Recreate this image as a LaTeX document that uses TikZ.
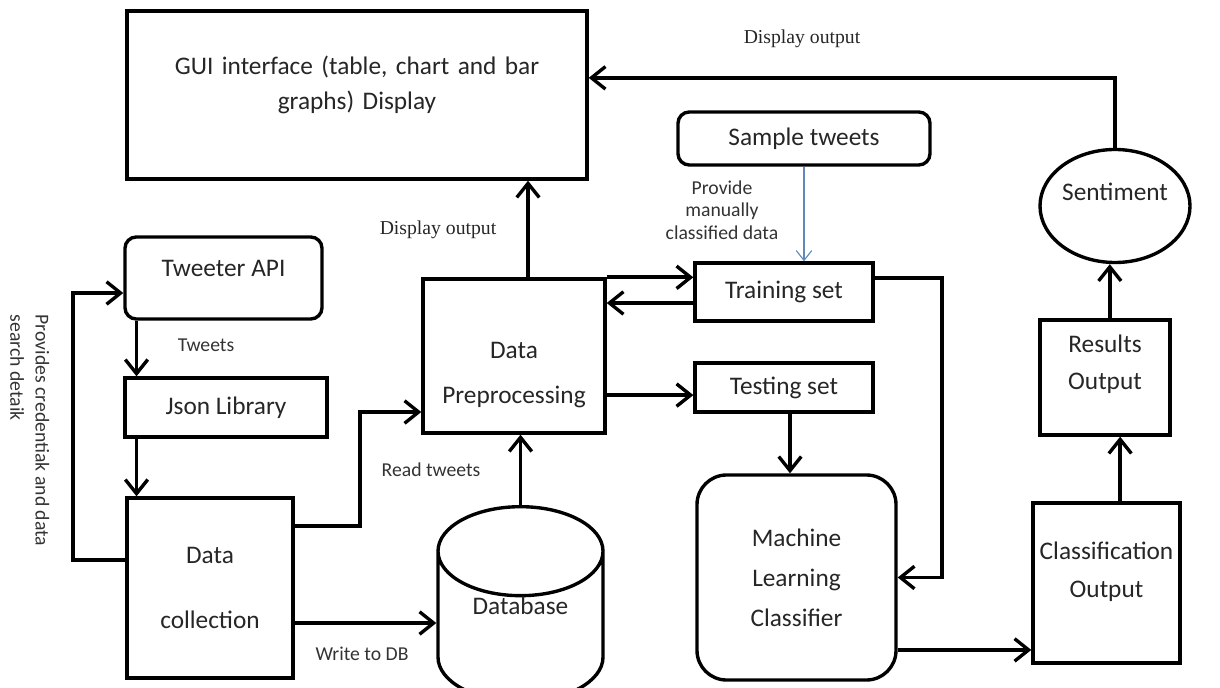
\documentclass[tikz,border=0pt]{standalone}
\usepackage{fontspec}
\setmainfont{Carlito}
\newfontfamily\labelserif{Liberation Serif}
\usetikzlibrary{positioning, arrows.meta, shapes.geometric, calc}
\definecolor{steelblue}{RGB}{96,136,186}

\begin{document}
\begin{tikzpicture}[
  x=0.025cm, y=-0.025cm,
  box/.style={
    draw=black, line width=2.4pt, fill=white, inner sep=0pt,
    align=center, font=\fontsize{18}{25}\selectfont, text=black!85
  },
  rbox/.style={box, rounded corners=8pt},
  sz/.style 2 args={minimum width=#1*0.025cm, minimum height=#2*0.025cm},
  arr/.style={-{Straight Barb[length=10pt, width=16pt, line width=2.4pt]}, line width=2.6pt},
  thinarr/.style={-{Straight Barb[length=7pt, width=11pt]}, line width=0.8pt, color=steelblue},
  lbl/.style={font=\fontsize{14}{16}\selectfont, text=black!80, inner sep=1pt, align=center},
  slbl/.style={font=\labelserif\fontsize{14}{16}\selectfont, text=black!85, inner sep=1pt},
]
\useasboundingbox (0,0) rectangle (1220,688);

% ===== Boxes =====
\node[box, sz={460}{168}, text width=11cm, text depth=42pt] (gui) at (357,95)
  {GUI interface (table, chart and bar\\graphs) Display};
\node[rbox, sz={252}{53}] (sample) at (804,138.5) {Sample tweets};
\node[box, ellipse, sz={150}{113}, text depth=20pt] (sent) at (1115,206) {Sentiment};

\node[rbox, sz={197}{82}, text depth=14pt] (api) at (223.5,278) {Tweeter API};
\node[box, sz={202}{59}] (json) at (226,407.5) {Json Library};
\node[box, sz={166}{180}] (dcoll) at (210,588) {Data\\[21pt]collection};

\node[box, sz={182}{154}, text height=70pt] (prep) at (514,356) {Data\\[7pt]Preprocessing};
\node[box, cylinder, shape border rotate=90, aspect=0.93, sz={165}{151},
  text depth=30pt, anchor=north] (db) at (520.5,505) {Database};

\node[box, sz={178}{58}] (train) at (784,292) {Training set};
\node[box, sz={178}{49}] (test) at (784,387.5) {Testing set};
\node[rbox, rounded corners=21pt, sz={199}{205}] (ml) at (796.5,577.5)
  {Machine\\[3.5pt]Learning\\[3.5pt]Classifier};

\node[box, sz={147}{160}, text depth=18.7pt] (cls) at (1106.5,583) {Classification\\[2pt]Output};
\node[box, sz={130}{115}, text depth=21.5pt] (res) at (1105,377.5) {Results\\[1pt]Output};

% ===== Labels =====
\node[slbl] (disptop) at (802,39) {Display output};
\node[slbl] (dispmid) at (438,230) {Display output};
\node[lbl] (provide) at (722,210) {Provide\\manually\\classified data};
\node[lbl] (tweets) at (206,345) {Tweets};
\node[lbl] (read) at (431,470) {Read tweets};
\node[lbl] (write) at (362,654) {Write to DB};
\node[lbl, rotate=-90, anchor=north west, align=left, font=\fontsize{14}{18}\selectfont]
  (cred) at (51,313) {Provides credentiak and data\\search detaik};

% ===== Arrows =====
\draw[arr] (sent.north) |- ($(gui.north east)!0.4!(gui.south east)$);
\draw[thinarr] (sample.south) -- (sample.south |- train.north);
\draw[arr] ([xshift=0.35cm]prep.north) -- ([xshift=0.35cm]prep.north |- gui.south);
\draw[arr] (prep.north east) -- (prep.north east -| train.west);
\draw[arr] ([yshift=-0.275cm]train.west) -- ([yshift=-0.275cm]train.west -| prep.east);
\draw[arr] ([yshift=-0.19cm]test.west -| prep.east) -- ([yshift=-0.19cm]test.west);
\draw[arr] ([xshift=0.15cm]test.south) -- ([xshift=0.15cm]test.south |- ml.north);
\draw[arr] ([yshift=0.35cm]train.east) -- ++(67,0) |- (ml.east);
\draw[arr] ([yshift=-1.81cm]ml.east) -- ([yshift=-1.81cm]ml.east -| cls.west);
\draw[arr] ([xshift=0.34cm]cls.north) -- ([xshift=0.34cm]cls.north |- res.south);
\draw[arr] ([xshift=0.12cm]res.north) -- ([xshift=0.12cm]res.north |- sent.south);

\draw[arr] ([xshift=0.33cm]api.south west) -- ([xshift=0.33cm]api.south west |- json.north);
\draw[arr] ([xshift=0.33cm]json.south west) -- ([xshift=0.33cm]json.south west |- dcoll.north);
\draw[arr] ([yshift=0.7cm]dcoll.west) -- ++(-52,0) |- ([yshift=-0.375cm]api.west);
\draw[arr] ([yshift=1.55cm]dcoll.east) -- ++(65,0) |- ([yshift=-1.4cm]prep.west);
\draw[arr] ([yshift=-0.875cm]dcoll.east) -- ([yshift=-0.875cm]dcoll.east -| db.west);
\draw[arr] (db.north) -- (db.north |- prep.south);

\end{tikzpicture}
\end{document}
